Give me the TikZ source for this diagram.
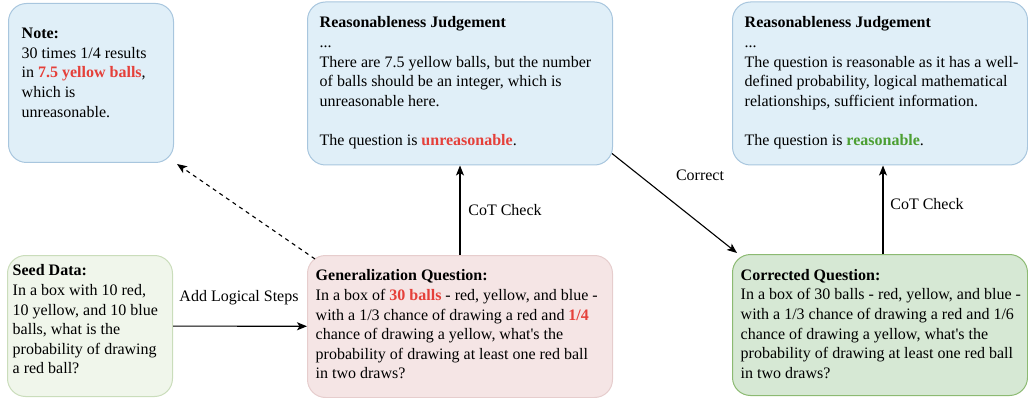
\documentclass[tikz,border=0pt]{standalone}
\usepackage{fontspec}
\setmainfont{Liberation Serif}[Ligatures=TeXOff]
\usetikzlibrary{arrows.meta}
\definecolor{bluefill}{HTML}{E0EFF8}
\definecolor{blueline}{HTML}{A8C6DE}
\definecolor{seedfill}{HTML}{F0F6EB}
\definecolor{seedline}{HTML}{CADDBB}
\definecolor{genfill}{HTML}{F5E5E5}
\definecolor{genline}{HTML}{E6CDCD}
\definecolor{corrfill}{HTML}{D6E8D4}
\definecolor{corrline}{HTML}{8CBA72}
\definecolor{redtxt}{HTML}{E5403A}
\definecolor{greentxt}{HTML}{4C9F33}
\newcommand{\rd}[1]{\textcolor{redtxt}{\textbf{#1}}}
\newcommand{\gr}[1]{\textcolor{greentxt}{\textbf{#1}}}
\begin{document}
\begin{tikzpicture}[x=1pt,y=-1pt,
  box/.style={draw, line width=1pt, rounded corners=18pt, inner sep=0pt, anchor=north west},
  txt/.style={align=left, font=\fontsize{16}{19.6}\selectfont, inner sep=0pt, anchor=north west},
  lbl/.style={font=\fontsize{16}{19.6}\selectfont, inner sep=0pt},
  arr/.style={line width=1.1pt, -{Stealth[length=10pt,width=8pt,inset=2.5pt]}}]
\useasboundingbox (0,0) rectangle (1028,398);

% boxes
\node[box, fill=bluefill, draw=blueline, minimum width=165pt, minimum height=159pt] (note) at (8,3) {};
\node[box, fill=bluefill, draw=blueline, minimum width=305pt, minimum height=163pt] (rj1) at (307,1.5) {};
\node[box, fill=bluefill, draw=blueline, minimum width=295pt, minimum height=163pt] (rj2) at (732,1.5) {};
\node[box, fill=seedfill, draw=seedline, minimum width=165pt, minimum height=141pt] (seed) at (7,255) {};
\node[box, fill=genfill, draw=genline, minimum width=305pt, minimum height=142pt] (gen) at (307,255) {};
\node[box, fill=corrfill, draw=corrline, minimum width=295pt, minimum height=141pt] (corr) at (732,254) {};

% texts
\node[txt] (noteT) at (21.5,28)
  {\textbf{Note:}\\30 times 1/4 results\\in \rd{7.5 yellow balls},\\which is\\unreasonable.};
\node[txt] (rj1T) at (319.5,16.6)
  {\textbf{Reasonableness Judgement}\\...\\There are 7.5 yellow balls, but the number\\of balls should be an integer, which is\\unreasonable here.\\[19.6pt]The question is \rd{unreasonable}.};
\node[txt] (rj2T) at (744.5,16.6)
  {\textbf{Reasonableness Judgement}\\...\\The question is reasonable as it has a well-\\defined probability, logical mathematical\\relationships, sufficient information.\\[19.6pt]The question is \gr{reasonable}.};
\node[txt] (seedT) at (12.5,264.6)
  {\textbf{Seed Data:}\\In a box with 10 red,\\10 yellow, and 10 blue\\balls, what is the\\probability of drawing\\a red ball?};
\node[txt] (genT) at (315.5,269.6)
  {\textbf{Generalization Question:}\\In a box of \rd{30 balls} - red, yellow, and blue -\\with a 1/3 chance of drawing a red and \rd{1/4}\\chance of drawing a yellow, what's the\\probability of drawing at least one red ball\\in two draws?};
\node[txt] (corrT) at (740.5,269)
  {\textbf{Corrected Question:}\\In a box of 30 balls - red, yellow, and blue -\\with a 1/3 chance of drawing a red and 1/6\\chance of drawing a yellow, what's the\\probability of drawing at least one red ball\\in two draws?};

% connectors
\draw[arr] (seed) -- (gen);
\draw[arr] (gen) -- (rj1);
\draw[arr] ([xshift=3pt]corr.north) -- ([xshift=3pt]rj2.south);
\draw[arr, dash pattern=on 4pt off 4pt] ([shift={(8,4)}]gen.north west) -- ([shift={(3,1)}]note.south east);
\draw[arr] ([shift={(-1,-12)}]rj1.south east) -- ([shift={(5,-1)}]corr.north west);

% connector labels
\node[lbl] (l1) at (239,298) {Add Logical Steps};
\node[lbl] (l2) at (505,210) {CoT Check};
\node[lbl] (l3) at (700,175) {Correct};
\node[lbl] (l4) at (927,204) {CoT Check};
\end{tikzpicture}
\end{document}
